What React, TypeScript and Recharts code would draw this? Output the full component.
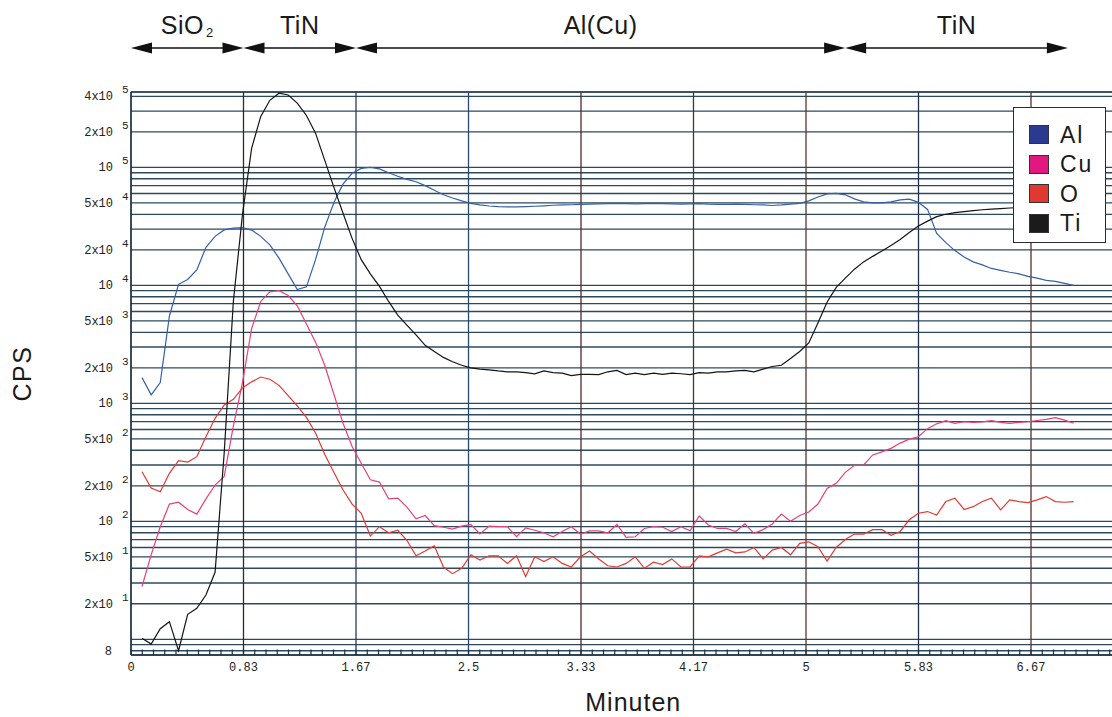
import React from 'react';
import {
  LineChart,
  Line,
  XAxis,
  YAxis,
  CartesianGrid,
  ReferenceLine,
  Legend,
} from 'recharts';

// SIMS depth profile, counts per second on a log axis
const timeStart = 0.0815;
const timeStep = 0.06766;

const al = [
  1650, 1180, 1500, 5500, 10200, 11200, 13500, 21000, 26000, 29500, 30500, 30800, 29400, 26000, 22000,
  17000, 12500, 9200, 9700, 16500, 31000, 50000, 72000, 89000, 98000, 100000, 97000, 90000, 84000, 79000,
  75500, 70000, 64000, 58500, 55000, 52000, 49500, 48000, 47000, 46500, 46200, 46300, 46500, 46800, 47200,
  47700, 48000, 48200, 48500, 48800, 49000, 49200, 49500, 49300, 49000, 49200, 49500, 49200, 49000, 48800,
  49000, 49200, 48800, 48600, 48500, 48800, 48500, 48200, 48000, 47500, 48000, 48800, 49500, 52000, 56000,
  59500, 60200, 58500, 54000, 51000, 50000, 50000, 51000, 53000, 53800, 50500, 44000, 27500, 23000, 19700,
  17400, 15800, 14900, 13900, 13400, 12900, 12500, 11900, 11500, 11000, 10800, 10400, 10000,
];
const cu = [
  28, 52, 90, 140, 145, 126, 115, 155, 203, 240, 640, 1500, 4300, 7300, 8800,
  9000, 8200, 6700, 4700, 3300, 2100, 1200, 680, 430, 310, 225, 215, 155, 157, 132,
  105, 112, 92, 89, 86, 91, 94, 78, 91, 90, 90, 74, 88, 84, 80,
  74, 82, 90, 78, 83, 83, 80, 94, 73, 74, 87, 90, 89, 82, 90,
  83, 111, 93, 87, 87, 82, 95, 79, 85, 95, 115, 100, 112, 120, 140,
  190, 210, 260, 298, 300, 365, 388, 415, 460, 497, 521, 610, 670, 712, 677,
  698, 690, 695, 712, 690, 677, 690, 698, 715, 732, 755, 720, 677,
];
const ox = [
  263, 191, 178, 255, 327, 318, 353, 521, 746, 968, 1080, 1350, 1520, 1670, 1600,
  1420, 1160, 950, 760, 560, 370, 260, 185, 140, 117, 75, 90, 80, 84, 69,
  51, 56, 62, 41, 36, 40, 52, 47, 51, 51, 44, 51, 34, 50, 45.5,
  50, 44, 41, 50, 56, 48, 42, 41, 44, 50, 40, 45, 43, 48, 41,
  41, 51, 50, 54, 58, 54, 55, 60, 48, 57, 60, 52, 65, 67, 61,
  46, 60, 70, 78, 78, 85, 85, 76, 82, 103, 117, 121, 113, 147, 157,
  126, 133, 147, 157, 125, 152, 147, 144, 152, 162, 147, 145, 147,
];
const ti = [
  10.2, 9.1, 12.3, 14.1, 8.0, 16.3, 18.3, 23.7, 37, 380, 7300, 40000, 145000, 270000, 370000,
  425000, 410000, 350000, 275000, 195000, 115000, 68000, 41000, 25000, 16500, 12500, 9800, 7300, 5600, 4600,
  3800, 3100, 2750, 2450, 2250, 2100, 2000, 1950, 1920, 1880, 1850, 1850, 1820, 1780, 1880,
  1820, 1800, 1720, 1760, 1760, 1750, 1850, 1900, 1750, 1800, 1750, 1800, 1760, 1800, 1780,
  1750, 1820, 1800, 1850, 1850, 1880, 1900, 1850, 1950, 2050, 2100, 2400, 2750, 3250, 4800,
  7200, 9600, 11500, 13700, 15800, 17600, 19500, 21800, 24500, 28000, 31800, 35000, 38200, 40000, 41300,
  42200, 43000, 43700, 44200, 44700, 45200, 45500, 45800, 46000, 46200, 46400, 46600, 46800,
];

const minutes = al.map((_, i) => +(timeStart + i * timeStep).toFixed(4));
const data = minutes.map((t, i) => ({ t, Al: al[i], Cu: cu[i], O: ox[i], Ti: ti[i] }));

const series = [
  { key: 'Al', color: '#3560a8', swatch: '#2b3990' },
  { key: 'Cu', color: '#e8407c', swatch: '#e0187f' },
  { key: 'O', color: '#e03a34', swatch: '#e03a30' },
  { key: 'Ti', color: '#161414', swatch: '#1c1a1a' },
];

// x ticks every 50 s (the visible ones), minor ticks every 5 s
const majorSeconds = [0, 50, 100, 150, 200, 250, 300, 350, 400];
const majorColors = ['#1f3344', '#2e2c1c', '#263d62', '#284a74', '#4e2c2a', '#34402a', '#55382a', '#22314a', '#55302a'];
const minorSeconds = Array.from({ length: 91 }, (_, i) => i * 5);

// y grid: every mantissa of every decade
const mantissas = [1, 2, 3, 4, 5, 6, 7, 8, 9];
const decades = [1, 10, 100, 1000, 10000, 100000];
const yLabels = [8, 20, 50, 100, 200, 500, 1000, 2000, 5000, 10000, 20000, 50000, 100000, 200000, 400000];
const Y_MIN = 7.36;
const Y_MAX = 435000;
const yGrid = decades.flatMap((d) => mantissas.map((m) => m * d)).filter((v) => v >= 8 && v <= 400000);

// layer labels across the top, boundaries in minutes
const layerNames = ['SiO2', 'TiN', 'Al(Cu)', 'TiN'];
const layerBounds = [0, 0.8333, 1.6667, 5.29, 6.94];

const CHART_W = 1151;
const CHART_H = 717;
const Y_AXIS_W = 131;
const MARGIN = { top: 92, right: 7.5, bottom: 32, left: 0 };
const X_MAX = 7.5;
const PLOT_W = CHART_W - Y_AXIS_W - MARGIN.left - MARGIN.right;
const xToPx = (t: number) => MARGIN.left + Y_AXIS_W + (t / X_MAX) * PLOT_W;

const sans = "'Liberation Sans', Arial, sans-serif";
const mono = "'Liberation Mono', 'DejaVu Sans Mono', monospace";

function YTick(props: any) {
  const { x, y, payload } = props;
  const v = payload.value;
  if (!yLabels.includes(v)) return <g />;
  if (v < 10) {
    return (
      <text x={x - 19} y={y} dy={4} textAnchor="end" fontFamily={mono} fontSize={12} fill="#222">
        {v}
      </text>
    );
  }
  const exp = Math.floor(Math.log10(v) + 1e-9);
  const m = Math.round(v / Math.pow(10, exp));
  const base = m === 1 ? '10' : `${m}x10`;
  return (
    <g>
      <text x={x - 18} y={y} dy={4} textAnchor="end" fontFamily={mono} fontSize={12} fill="#222">
        {base}
      </text>
      <text x={x - 9} y={y - 7} dy={4} fontFamily={mono} fontSize={11} fill="#222">
        {exp}
      </text>
    </g>
  );
}

function fmtMinutes(v: number) {
  return String(parseFloat(v.toFixed(2)));
}

function LegendBox() {
  return (
    <div
      style={{
        width: 93,
        height: 136,
        boxSizing: 'border-box',
        border: '1px solid #2a2a2a',
        background: '#fff',
        paddingTop: 12,
        paddingLeft: 15,
      }}
    >
      {series.map((s) => (
        <div key={s.key} style={{ display: 'flex', alignItems: 'center', height: 29.5 }}>
          <div
            style={{
              width: 20,
              height: 19,
              boxSizing: 'border-box',
              background: s.swatch,
              border: '1px solid #333',
              marginRight: 11,
            }}
          />
          <span style={{ fontFamily: sans, fontSize: 23, letterSpacing: 2, color: '#1a1a1a', lineHeight: '24px' }}>
            {s.key}
          </span>
        </div>
      ))}
    </div>
  );
}

function Header() {
  return (
    <svg
      width={CHART_W}
      height={80}
      style={{ position: 'absolute', left: 0, top: 0, pointerEvents: 'none' }}
    >
      {layerNames.map((name, i) => {
        const x1 = xToPx(layerBounds[i]);
        const x2 = xToPx(layerBounds[i + 1]);
        const cx = (x1 + x2) / 2;
        const y = 48;
        return (
          <g key={i}>
            <line x1={x1 + 10} x2={x2 - 10} y1={y} y2={y} stroke="#111" strokeWidth={1.3} />
            <polygon points={`${x1},${y} ${x1 + 21},${y - 5.5} ${x1 + 21},${y + 5.5}`} fill="#111" />
            <polygon points={`${x2},${y} ${x2 - 21},${y - 5.5} ${x2 - 21},${y + 5.5}`} fill="#111" />
            <text x={cx} y={34} textAnchor="middle" fontFamily={sans} fontSize={25} letterSpacing={0.5} fill="#1a1a1a">
              {name === 'SiO2' ? (
                <>
                  SiO
                  <tspan fontSize={13} dx={2} dy={3}>2</tspan>
                </>
              ) : (
                name
              )}
            </text>
          </g>
        );
      })}
    </svg>
  );
}

export default function App() {
  return (
    <div
      style={{
        position: 'fixed',
        left: 0,
        top: 0,
        width: 1112,
        height: 717,
        overflow: 'hidden',
        background: '#fff',
      }}
    >
      <div style={{ position: 'relative', width: CHART_W, height: CHART_H }}>
        <LineChart width={CHART_W} height={CHART_H} data={data} margin={MARGIN}>
          <CartesianGrid stroke="#2c4a5c" strokeWidth={1.3} vertical={false} />
          <XAxis
            dataKey="t"
            type="number"
            domain={[0, X_MAX]}
            ticks={majorSeconds.map((s) => s / 60)}
            interval={0}
            tickFormatter={fmtMinutes}
            tickLine={false}
            tickSize={0}
            tickMargin={7}
            height={30}
            axisLine={{ stroke: '#1f3344', strokeWidth: 1.3 }}
            tick={{ fontFamily: mono, fontSize: 12, fill: '#222' }}
            label={{
              content: (p: any) => {
                const vb = p.viewBox;
                return (
                  <text
                    x={vb.x + vb.width / 2 - 4}
                    y={vb.y + 56}
                    textAnchor="middle"
                    fontFamily={sans}
                    fontSize={25}
                    letterSpacing={1}
                    fill="#1a1a1a"
                  >
                    Minuten
                  </text>
                );
              },
            }}
          />
          <YAxis
            type="number"
            scale="log"
            domain={[Y_MIN, Y_MAX]}
            allowDataOverflow
            ticks={yGrid}
            interval={0}
            width={Y_AXIS_W}
            tickLine={false}
            tickSize={0}
            tickMargin={0}
            axisLine={{ stroke: '#1f3344', strokeWidth: 1.3 }}
            tick={<YTick />}
            label={{
              content: (p: any) => {
                const vb = p.viewBox;
                const cx = 22;
                const cy = vb.y + vb.height / 2;
                return (
                  <text
                    x={cx}
                    y={cy}
                    textAnchor="middle"
                    dominantBaseline="central"
                    transform={`rotate(-90 ${cx} ${cy})`}
                    fontFamily={sans}
                    fontSize={25}
                    letterSpacing={1.5}
                    fill="#1a1a1a"
                  >
                    CPS
                  </text>
                );
              },
            }}
          />
          <ReferenceLine y={Y_MAX} stroke="#2c4a5c" strokeWidth={1.3} />
          {majorSeconds.map((s, i) => (
            <ReferenceLine key={`v${s}`} x={s / 60} stroke={majorColors[i]} strokeWidth={1.3} />
          ))}
          {minorSeconds.map((s) => (
            <ReferenceLine
              key={`m${s}`}
              segment={[
                { x: s / 60, y: Y_MIN },
                { x: s / 60, y: 8.2 },
              ]}
              stroke="#1f2f44"
              strokeWidth={1.2}
            />
          ))}
          {series.map((s) => (
            <Line
              key={s.key}
              dataKey={s.key}
              type="linear"
              stroke={s.color}
              strokeWidth={1.2}
              dot={false}
              isAnimationActive={false}
            />
          ))}
          <Legend
            layout="horizontal"
            verticalAlign="middle"
            align="center"
            wrapperStyle={{ top: 107, left: 1013, width: 93 }}
            content={() => <LegendBox />}
          />
        </LineChart>
        <Header />
      </div>
    </div>
  );
}
